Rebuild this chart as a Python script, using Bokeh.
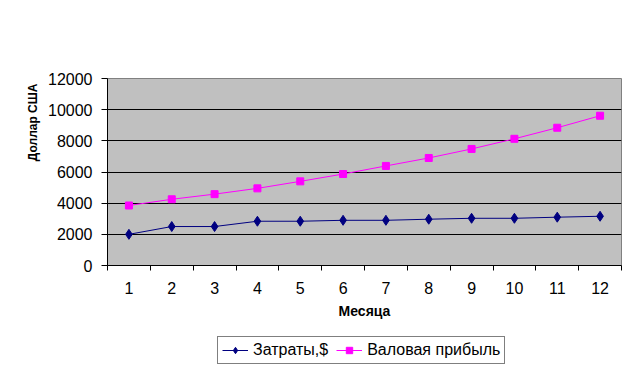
import math
from bokeh.plotting import figure
from bokeh.layouts import column
from bokeh.models import FixedTicker, Legend, LegendItem, Title, Range1d, ColumnDataSource
from bokeh.embed import file_html
from bokeh.resources import INLINE

months = [1, 2, 3, 4, 5, 6, 7, 8, 9, 10, 11, 12]
costs = [2000, 2500, 2500, 2840, 2840, 2900, 2900, 2970, 3030, 3030, 3100, 3160]
gross_profit = [3850, 4250, 4580, 4950, 5400, 5870, 6390, 6900, 7480, 8130, 8840, 9610]
y_ticks = [0, 2000, 4000, 6000, 8000, 10000, 12000]
series_names = ["Затраты,$", "Валовая прибыль"]
x_title = "Месяца"
y_title = "Доллар США"

FONT = "Liberation Sans"
COST_COLOR = "#000080"
PROFIT_COLOR = "#FF00FF"

p = figure(width=628, height=330, output_backend="svg", toolbar_location=None,
           x_range=Range1d(0.5, 12.5), y_range=Range1d(0, 12000),
           min_border_left=107, min_border_right=7, min_border_top=78, min_border_bottom=65)
p.background_fill_color = "#C0C0C0"
p.border_fill_color = "white"
p.outline_line_color = "#808080"
p.outline_line_width = 1

# grid
p.xgrid.grid_line_color = None
p.ygrid.grid_line_color = "black"
p.ygrid.grid_line_width = 1
p.ygrid.ticker = FixedTicker(ticks=y_ticks[1:-1])

# x axis
xa = p.xaxis[0]
xa.ticker = FixedTicker(ticks=months, minor_ticks=[m - 0.5 for m in months] + [12.5])
xa.major_tick_line_color = None
xa.major_tick_out = 0
xa.major_tick_in = 0
xa.minor_tick_line_color = "black"
xa.minor_tick_out = 5
xa.minor_tick_in = 0
xa.axis_line_color = "black"
xa.major_label_text_font = FONT
xa.major_label_text_font_size = "16px"
xa.major_label_text_color = "black"
xa.major_label_standoff = 11
xa.axis_label = x_title
xa.axis_label_text_font = FONT
xa.axis_label_text_font_size = "14px"
xa.axis_label_text_font_style = "bold"
xa.axis_label_text_color = "black"
xa.axis_label_standoff = 6

# y axis
ya = p.yaxis[0]
ya.ticker = FixedTicker(ticks=y_ticks)
ya.minor_tick_line_color = None
ya.major_tick_out = 6
ya.major_tick_in = 0
ya.major_tick_line_color = "black"
ya.axis_line_color = "black"
ya.major_label_text_font = FONT
ya.major_label_text_font_size = "16px"
ya.major_label_text_color = "black"
ya.major_label_standoff = 9

src = ColumnDataSource(dict(m=months, c=costs, g=gross_profit))

p.line("m", "c", source=src, line_color=COST_COLOR, line_width=1)
p.scatter("m", "c", source=src, marker="diamond", size=10,
          fill_color=COST_COLOR, line_color=COST_COLOR)
p.line("m", "g", source=src, line_color=PROFIT_COLOR, line_width=1)
p.scatter("m", "g", source=src, marker="square", size=7,
          fill_color=PROFIT_COLOR, line_color=PROFIT_COLOR)

# y axis title (Excel places it near the top of the axis)
p.add_layout(Title(text=y_title, align="right", offset=5, standoff=11,
                   text_font=FONT, text_font_size="12px", text_font_style="bold",
                   text_color="black"), "left")

# legend strip below the chart (its renderers hold the same series, kept out of view)
lg = figure(width=628, height=40, output_backend="svg", toolbar_location=None,
            x_range=Range1d(-20, -10), y_range=Range1d(-20, -10),
            x_axis_type=None, y_axis_type=None, min_border=0)
lg.outline_line_color = None
lg.grid.grid_line_color = None
lg.background_fill_color = "white"
lg.border_fill_color = "white"
r1 = lg.line("m", "c", source=src, line_color=COST_COLOR, line_width=1)
s1 = lg.scatter("m", "c", source=src, marker="diamond", size=10,
                fill_color=COST_COLOR, line_color=COST_COLOR)
r2 = lg.line("m", "g", source=src, line_color=PROFIT_COLOR, line_width=1)
s2 = lg.scatter("m", "g", source=src, marker="square", size=7,
                fill_color=PROFIT_COLOR, line_color=PROFIT_COLOR)

legend = Legend(items=[LegendItem(label=series_names[0], renderers=[r1, s1]),
                       LegendItem(label=series_names[1], renderers=[r2, s2])],
                location=(110, 6), orientation="horizontal",
                label_text_font=FONT, label_text_font_size="16px", label_text_color="black",
                glyph_width=26, glyph_height=16, label_standoff=5, spacing=8,
                padding=4, margin=0, border_line_color="black", border_line_width=1,
                background_fill_color="white", background_fill_alpha=1)
lg.add_layout(legend, "center")

layout = column(p, lg, spacing=0)
open("out.html", "w").write(file_html(layout, INLINE))
